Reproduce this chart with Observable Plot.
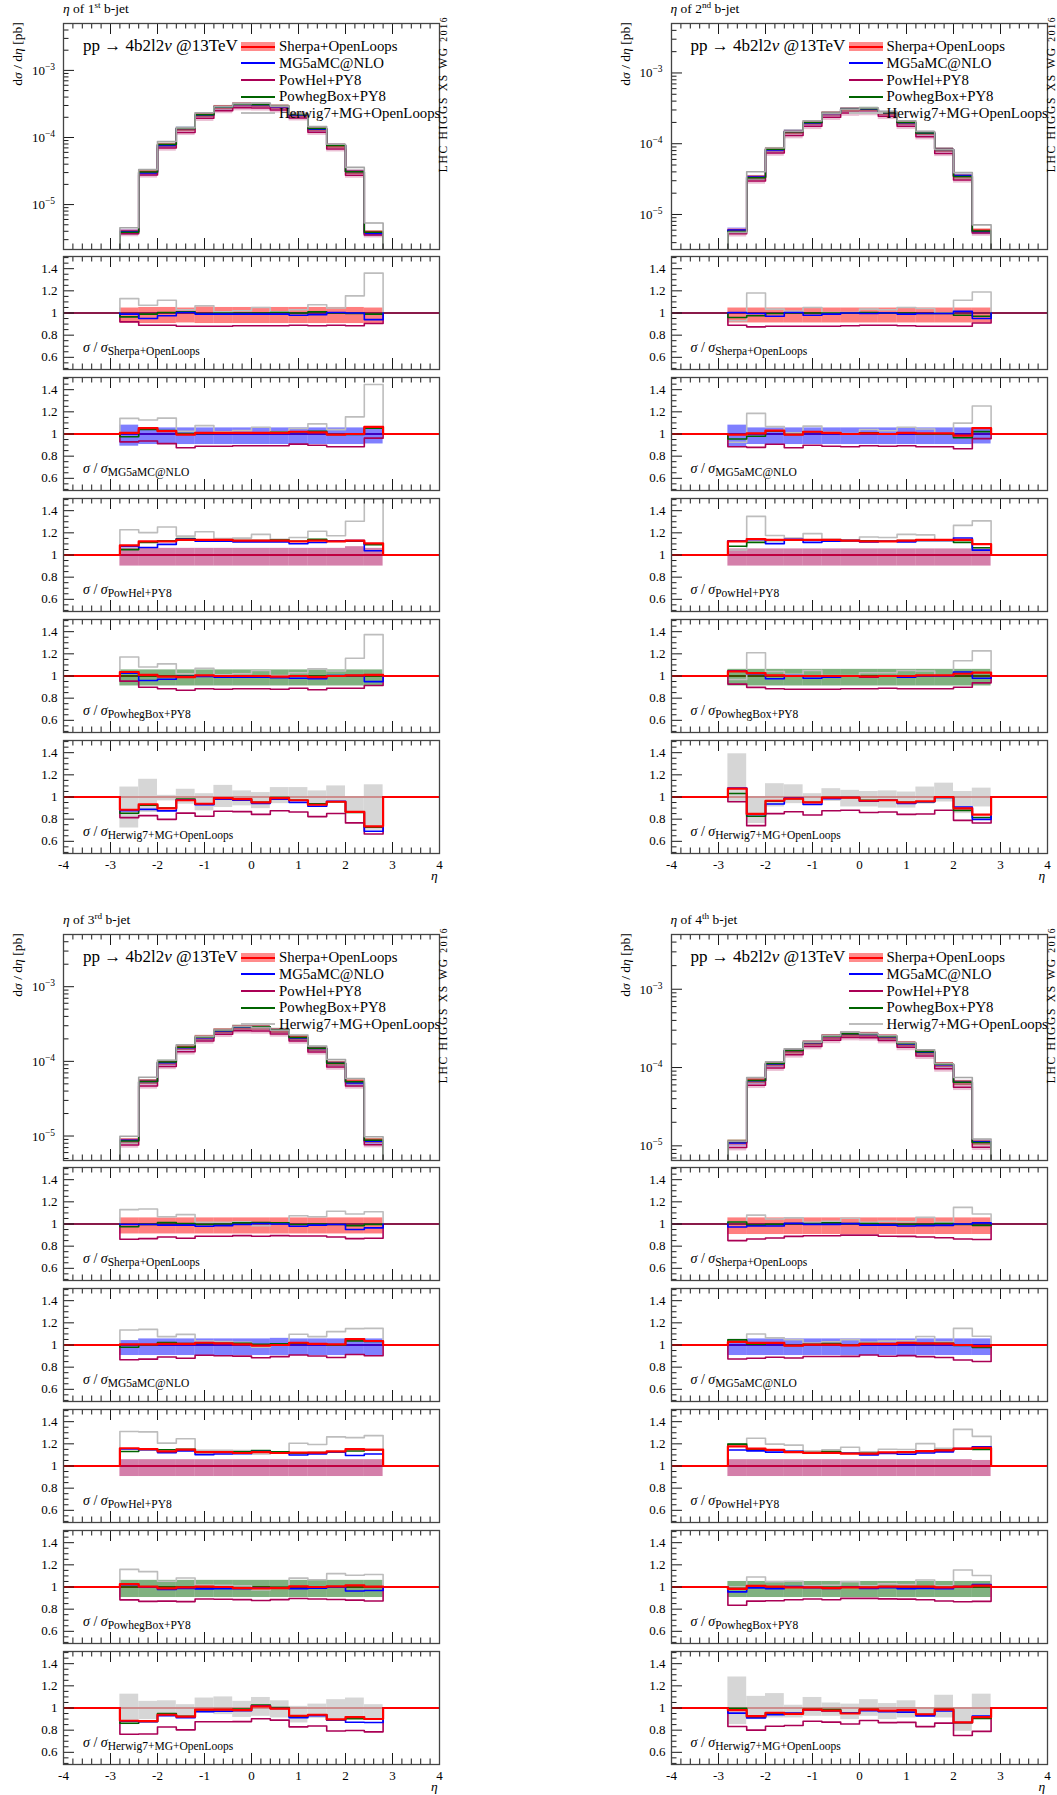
<!DOCTYPE html>
<html><head><meta charset="utf-8">
<script src="https://cdn.jsdelivr.net/npm/d3@7"></script>
<script src="https://cdn.jsdelivr.net/npm/@observablehq/plot@0.6"></script>
<style>
body{margin:0;background:#fff}
#fig{position:relative;width:1057px;height:1795px;background:#fff;font-family:"Liberation Serif",serif;color:#000;overflow:hidden}
#fig svg{position:absolute;background:transparent}
.t{position:absolute;white-space:nowrap;line-height:1}
.t sub{font-size:11.5px;vertical-align:-0.3em;line-height:0}
.t sup{font-size:68%;vertical-align:0.5em;line-height:0}
</style></head><body><div id="fig"></div><script>
// ---------- data ----------
const edges = [-2.8,-2.4,-2.0,-1.6,-1.2,-0.8,-0.4,0,0.4,0.8,1.2,1.6,2.0,2.4,2.8];
const ordinals = ["st","nd","rd","th"];
const genNames = ["Sherpa+OpenLoops","MG5aMC@NLO","PowHel+PY8","PowhegBox+PY8","Herwig7+MG+OpenLoops"];
const lineColors = ["#ff0000","#0000ff","#aa0055","#006400","#bdbdbd"];
const mainLineColors = ["#ff0000","#0000ff","#aa0055","#006400","#a6a6a6"];
const bandColors = ["#ff0000","#0000ff","#aa0055","#006400","#d6d6d6"];
const yMin = [2.14e-6, 3.2e-6, 4.7e-6, 6.5e-6];
const yMax = 5e-3;
const xMajorTicks = [-4,-3,-2,-1,0,1,2,3,4];
const xLabels = [-4,-3,-2,-1,0,1,2,3,4];
const ratioMajorTicks = [0.6,0.8,1.0,1.2,1.4];
const ratioLabels = [0.6,0.8,1,1.2,1.4];

// Sherpa+OpenLoops dσ/dη [pb], one row per b-jet
const sherpaXS = [
  [4.0e-6,3.1e-5,7.8e-5,1.35e-4,2.19e-4,2.85e-4,3.13e-4,3.1e-4,2.9e-4,2.2e-4,1.35e-4,7.6e-5,3.1e-5,3.9e-6],
  [6.0e-6,3.4e-5,8.4e-5,1.48e-4,2.0e-4,2.69e-4,3.06e-4,3.1e-4,2.74e-4,2.0e-4,1.43e-4,8.3e-5,3.5e-5,6.0e-6],
  [8.8e-6,5.4e-5,9.7e-5,1.54e-4,2.11e-4,2.59e-4,2.87e-4,2.87e-4,2.6e-4,2.1e-4,1.5e-4,9.5e-5,5.4e-5,8.8e-6],
  [1.12e-5,6.9e-5,1.13e-4,1.64e-4,2.08e-4,2.49e-4,2.69e-4,2.67e-4,2.49e-4,2.04e-4,1.59e-4,1.10e-4,6.5e-5,1.12e-5]
];
// ratios to Sherpa+OpenLoops
const mgRatio = [
  [0.99,0.95,0.975,1.005,0.99,0.99,0.99,0.99,0.99,0.98,0.985,1.005,1.0,0.94],
  [1.005,0.995,0.97,1.005,0.98,0.99,1.0,0.995,1.0,0.99,0.995,0.995,1.015,0.95],
  [0.995,0.995,0.99,0.99,0.98,0.985,0.995,1.005,1.0,0.98,0.99,0.995,0.95,0.965],
  [0.973,0.982,0.982,1.006,0.997,0.997,1.003,0.99,0.99,0.982,0.985,0.988,1.0,1.01]
];
const powhelRatio = [
  [0.92,0.89,0.89,0.88,0.88,0.88,0.885,0.885,0.885,0.89,0.885,0.89,0.885,0.905],
  [0.89,0.875,0.88,0.88,0.88,0.88,0.885,0.89,0.89,0.885,0.88,0.88,0.88,0.91],
  [0.862,0.868,0.883,0.871,0.889,0.889,0.895,0.889,0.895,0.892,0.892,0.883,0.868,0.871],
  [0.85,0.864,0.873,0.888,0.894,0.894,0.9,0.9,0.89,0.888,0.882,0.876,0.864,0.86]
];
const powhegRatio = [
  [0.965,0.99,1.005,1.01,0.995,1.0,1.0,1.0,1.005,1.0,1.01,1.0,0.995,0.99],
  [0.96,0.975,0.995,1.0,1.0,1.0,1.0,1.005,1.0,1.0,0.995,0.995,0.98,0.97],
  [0.975,0.997,1.012,1.003,0.997,1.0,1.01,1.012,1.01,0.995,1.0,0.995,0.985,0.997],
  [1.018,0.99,0.997,1.003,1.003,1.01,1.003,1.003,0.997,0.997,0.997,1.003,0.997,0.988]
];
const herwigRatio = [
  [1.13,1.07,1.115,1.03,1.065,1.01,1.02,1.05,1.01,1.03,1.075,1.045,1.155,1.36],
  [0.93,1.18,1.035,1.015,1.05,1.005,1.005,1.035,1.03,1.05,1.04,1.0,1.115,1.19],
  [1.13,1.135,1.065,1.085,1.015,1.015,1.02,0.985,1.005,1.075,1.065,1.115,1.09,1.11],
  [1.02,1.08,1.045,1.055,1.015,1.025,1.052,1.015,1.025,1.02,1.06,1.015,1.15,1.09]
];
// relative uncertainty bands (lower / upper)
const sherpaLo = [
  [0.91,0.905,0.905,0.91,0.905,0.905,0.905,0.905,0.905,0.905,0.905,0.905,0.905,0.905],
  [0.91,0.91,0.91,0.91,0.91,0.91,0.91,0.91,0.91,0.91,0.91,0.91,0.91,0.91],
  [0.91,0.91,0.91,0.91,0.91,0.91,0.91,0.91,0.91,0.91,0.91,0.91,0.91,0.91],
  [0.905,0.905,0.905,0.905,0.905,0.905,0.905,0.905,0.905,0.905,0.905,0.905,0.905,0.905]
];
const sherpaHi = [
  [1.045,1.05,1.05,1.045,1.055,1.05,1.05,1.05,1.05,1.05,1.05,1.05,1.05,1.045],
  [1.045,1.045,1.045,1.045,1.045,1.045,1.045,1.045,1.045,1.045,1.045,1.045,1.045,1.045],
  [1.055,1.055,1.055,1.055,1.055,1.055,1.055,1.055,1.055,1.055,1.055,1.055,1.055,1.055],
  [1.055,1.055,1.055,1.055,1.055,1.055,1.055,1.055,1.055,1.055,1.055,1.055,1.055,1.055]
];
const mgLo = [
  [0.89,0.905,0.905,0.905,0.905,0.905,0.905,0.905,0.905,0.905,0.905,0.905,0.905,0.91],
  [0.88,0.905,0.905,0.905,0.905,0.905,0.905,0.905,0.905,0.905,0.905,0.905,0.905,0.91],
  [0.905,0.905,0.905,0.905,0.905,0.905,0.905,0.905,0.905,0.905,0.905,0.905,0.905,0.905],
  [0.905,0.905,0.905,0.905,0.905,0.905,0.905,0.905,0.905,0.905,0.905,0.905,0.905,0.905]
];
const mgHi = [
  [1.08,1.055,1.055,1.055,1.055,1.055,1.055,1.055,1.055,1.055,1.055,1.055,1.055,1.06],
  [1.08,1.055,1.055,1.055,1.055,1.055,1.055,1.055,1.055,1.055,1.055,1.055,1.055,1.055],
  [1.04,1.055,1.055,1.055,1.055,1.055,1.055,1.055,1.06,1.055,1.055,1.055,1.055,1.055],
  [1.05,1.055,1.055,1.055,1.055,1.055,1.055,1.055,1.055,1.055,1.055,1.055,1.055,1.055]
];
const powhelLo = [
  [0.9,0.9,0.9,0.9,0.9,0.9,0.9,0.9,0.9,0.9,0.9,0.9,0.9,0.9],
  [0.9,0.9,0.9,0.9,0.9,0.9,0.9,0.9,0.9,0.9,0.9,0.9,0.9,0.9],
  [0.905,0.905,0.905,0.905,0.905,0.905,0.905,0.905,0.905,0.905,0.905,0.905,0.905,0.905],
  [0.905,0.905,0.905,0.905,0.905,0.905,0.905,0.905,0.905,0.905,0.905,0.905,0.905,0.905]
];
const powhelHi = [
  [1.06,1.06,1.06,1.06,1.06,1.06,1.06,1.06,1.06,1.06,1.06,1.06,1.075,1.06],
  [1.055,1.055,1.055,1.055,1.055,1.055,1.055,1.055,1.055,1.055,1.055,1.055,1.055,1.055],
  [1.057,1.057,1.057,1.057,1.057,1.057,1.057,1.057,1.057,1.057,1.057,1.057,1.057,1.057],
  [1.057,1.057,1.057,1.057,1.057,1.057,1.057,1.057,1.057,1.057,1.057,1.057,1.057,1.05]
];
const powhegLo = [
  [0.91,0.91,0.91,0.91,0.91,0.91,0.91,0.91,0.91,0.91,0.91,0.91,0.91,0.91],
  [0.91,0.91,0.91,0.91,0.91,0.91,0.91,0.91,0.91,0.91,0.91,0.91,0.91,0.91],
  [0.905,0.905,0.905,0.905,0.905,0.905,0.905,0.905,0.905,0.905,0.905,0.905,0.905,0.905],
  [0.905,0.905,0.905,0.905,0.905,0.905,0.905,0.905,0.905,0.905,0.905,0.905,0.905,0.905]
];
const powhegHi = [
  [1.055,1.055,1.055,1.055,1.055,1.055,1.055,1.055,1.055,1.055,1.055,1.055,1.055,1.055],
  [1.06,1.06,1.06,1.06,1.06,1.06,1.06,1.06,1.06,1.06,1.06,1.06,1.06,1.06],
  [1.06,1.06,1.06,1.06,1.06,1.06,1.06,1.06,1.06,1.06,1.06,1.06,1.06,1.06],
  [1.05,1.05,1.05,1.05,1.05,1.05,1.05,1.05,1.05,1.05,1.05,1.05,1.05,1.05]
];
const herwigLo = [
  [0.72,0.86,0.965,0.935,0.875,0.905,0.92,0.895,0.94,0.965,0.905,0.95,0.86,0.70],
  [0.95,0.76,0.91,0.94,0.955,0.96,0.91,0.91,0.90,0.90,0.935,0.955,0.85,0.91],
  [0.85,0.895,0.925,0.91,0.955,0.94,0.915,0.925,0.91,0.865,0.905,0.885,0.91,0.895],
  [0.85,0.895,0.91,0.91,0.925,0.925,0.895,0.925,0.895,0.91,0.92,0.91,0.79,0.895]
];
const herwigHi = [
  [1.09,1.16,1.015,1.07,1.03,1.105,1.055,1.04,1.085,1.085,1.055,1.10,1.0,1.11],
  [1.39,1.0,1.12,1.11,1.03,1.075,1.06,1.05,1.055,1.045,1.09,1.125,1.05,1.08],
  [1.125,1.06,1.065,1.03,1.09,1.10,1.06,1.095,1.065,1.015,1.035,1.075,1.09,1.03],
  [1.28,1.105,1.13,1.025,1.095,1.045,1.035,1.075,1.04,1.065,1.0,1.115,1.0,1.125]
];

// ---------- layout ----------
const fig = document.getElementById("fig");
const colX = [63, 670.5];
const rowY = [0, 911];
const FW = 376, MH = 226, RH = 113, R0 = 256, RSTEP = 121, ML = 50, MAIN_TOP = 23;
const FONT = "Liberation Serif";

const ratioTo = [null, mgRatio, powhelRatio, powhegRatio, herwigRatio];
const loSets = [sherpaLo, mgLo, powhelLo, powhegLo, herwigLo];
const hiSets = [sherpaHi, mgHi, powhelHi, powhegHi, herwigHi];

function genValues(p) {
  return [0,1,2,3,4].map(g => sherpaXS[p].map((s, i) => g === 0 ? s : s * ratioTo[g][p][i]));
}
function hist(vals, base) {
  const pts = [{x: edges[0], y: base}];
  vals.forEach((v, i) => { pts.push({x: edges[i], y: v}, {x: edges[i + 1], y: v}); });
  pts.push({x: edges[edges.length - 1], y: base});
  return pts;
}
function bandRects(center, lo, hi) {
  return center.map((c, i) => ({x1: edges[i], x2: edges[i + 1], y1: c * lo[i], y2: c * hi[i]}));
}
const xMinorTicks = d3.range(-40, 41, 2).filter(v => v % 10 !== 0).map(v => v / 10);
const ratioMinorTicks = d3.range(50, 151, 5).filter(v => v % 20 !== 0).map(v => v / 100);

function frameTicks(H, yMajor, yMinor) {
  const st = {stroke: "#1a1a1a", strokeWidth: 1, clip: true};
  return [
    Plot.tickX(xMajorTicks, {x: d => d, insetTop: H - 11, ...st}),
    Plot.tickX(xMajorTicks, {x: d => d, insetBottom: H - 11, ...st}),
    Plot.tickX(xMinorTicks, {x: d => d, insetTop: H - 5.5, ...st}),
    Plot.tickX(xMinorTicks, {x: d => d, insetBottom: H - 5.5, ...st}),
    Plot.tickY(yMajor, {y: d => d, insetRight: FW - 11, ...st}),
    Plot.tickY(yMinor, {y: d => d, insetRight: FW - 5.5, ...st})
  ];
}
function place(svg, left, top) {
  svg.style.left = left + "px";
  svg.style.top = top + "px";
  fig.appendChild(svg);
  return svg;
}
function text(html, left, top, css) {
  const d = document.createElement("div");
  d.className = "t";
  d.innerHTML = html;
  d.style.left = left + "px";
  d.style.top = top + "px";
  if (css) Object.assign(d.style, css);
  fig.appendChild(d);
  return d;
}
const plotStyle = {fontFamily: FONT, fontSize: "13px", color: "#000", background: "transparent", overflow: "visible"};

function decadesFor(p) {
  return [1e-7,1e-6,1e-5,1e-4,1e-3,1e-2].filter(d => d >= yMin[p] && d <= yMax);
}
function mainPlot(p, vals) {
  const decades = decadesFor(p);
  const minors = [];
  [1e-7,1e-6,1e-5,1e-4,1e-3].forEach(d => [2,3,4,5,6,7,8,9].forEach(k => { const v = d * k; if (v > yMin[p] && v < yMax) minors.push(v); }));
  const marks = [];
  [2,1,3,0].forEach(g => marks.push(Plot.rect(bandRects(vals[g], loSets[g][p], hiSets[g][p]),
    {x1: "x1", x2: "x2", y1: "y1", y2: "y2", fill: bandColors[g], fillOpacity: g === 0 ? 0.4 : 0.25, clip: true})));
  [0,1,2,3,4].forEach(g => marks.push(Plot.line(hist(vals[g], yMin[p]),
    {x: "x", y: "y", stroke: mainLineColors[g], strokeWidth: g === 4 ? 1.6 : 1.5, clip: true})));
  marks.push(...frameTicks(MH, decades, minors));
  marks.push(Plot.frame({stroke: "#444", strokeWidth: 1.3}));
  return Plot.plot({
    width: ML + FW + 1, height: MH + 2, marginLeft: ML, marginRight: 1, marginTop: 1, marginBottom: 1,
    x: {domain: [-4, 4], axis: null}, y: {type: "log", domain: [yMin[p], yMax], axis: null},
    style: plotStyle, marks
  });
}

function ratioPlot(p, vals, k, last) {
  const ref = vals[k];
  const ones = ref.map((v, i) => v / ref[i]);
  const marks = [];
  marks.push(Plot.rect(bandRects(ones, loSets[k][p], hiSets[k][p]),
    {x1: "x1", x2: "x2", y1: "y1", y2: "y2", fill: bandColors[k], fillOpacity: k === 4 ? 1 : 0.5, clip: true}));
  marks.push(Plot.ruleY([1], {stroke: k === 0 ? "#8a1a4a" : "#ff0000", strokeWidth: 2}));
  if (k !== 0) marks.push(Plot.line(hist(ones, 1), {x: "x", y: "y", stroke: lineColors[k], strokeWidth: 1.6}));
  [4,2,3,1,0].filter(g => g !== k).forEach(g => {
    const r = vals[g].map((v, i) => v / ref[i]);
    marks.push(Plot.line(hist(r, 1), {x: "x", y: "y", stroke: lineColors[g], strokeWidth: g === 0 ? 2.2 : 1.6, clip: true}));
  });
  marks.push(...frameTicks(RH, ratioMajorTicks, ratioMinorTicks));
  marks.push(Plot.frame({stroke: "#444", strokeWidth: 1.3}));
  marks.push(Plot.axisY(ratioLabels, {tickSize: 0, tickPadding: 6, tickFormat: d => d === 1 ? "1" : d.toFixed(1), label: null}));
  if (last) marks.push(Plot.axisX(xLabels, {tickSize: 0, tickPadding: 6, tickFormat: d => d < 0 ? "-" + (-d) : String(d), label: null}));
  return Plot.plot({
    width: ML + FW + 1, height: RH + 2 + (last ? 22 : 0), marginLeft: ML, marginRight: 1, marginTop: 1, marginBottom: last ? 23 : 1,
    x: {domain: [-4, 4], axis: null}, y: {domain: [0.49, 1.51], axis: null},
    style: plotStyle, marks
  });
}

for (let p = 0; p < 4; p++) {
  const X = colX[p % 2], Y = rowY[Math.floor(p / 2)];
  const vals = genValues(p);
  const top = Y + MAIN_TOP - 1;
  const mp = place(mainPlot(p, vals), X - ML, top);
  const ys = mp.scale("y");
  decadesFor(p).forEach(d => {
    const e = Math.round(Math.log10(d));
    text(`10<sup style="font-size:9.5px;vertical-align:0.55em">\u2212${-e}</sup>`, X - 8, top + ys.apply(d) - 6, {fontSize: "13px", transform: "translateX(-100%)"});
  });
  for (let k = 0; k < 5; k++) {
    place(ratioPlot(p, vals, k, k === 4), X - ML, Y + R0 + k * RSTEP - 1);
  }
}

// ---------- text ----------
const legendRows = [46.7, 63.3, 80, 96.7, 113.3];
for (let p = 0; p < 4; p++) {
  const X = colX[p % 2], Y = rowY[Math.floor(p / 2)];
  text(`<i>η</i> of ${p + 1}<sup>${ordinals[p]}</sup> b-jet`, X, Y + 1.5, {fontSize: "13.5px"});
  text(`d<i>σ</i> / d<i>η</i> [pb]`, X - 45, Y + 54, {fontSize: "13.5px", transform: "translate(-50%,-50%) rotate(-90deg)"});
  text(`pp → 4b2l2<i>ν</i> @13TeV`, X + 20, Y + 36.5, {fontSize: "17px"});
  text(`LHC HIGGS XS WG <span style="font-size:9.5px">2016</span>`, X + FW + 5, Y + 94, {fontSize: "11.5px", letterSpacing: "1.7px", transform: "translate(-50%,-50%) rotate(-90deg)"});
  legendRows.forEach((cy, g) => {
    const sw = document.createElement("div");
    sw.style.position = "absolute";
    sw.style.left = (X + 178) + "px";
    sw.style.width = "34px";
    if (g === 0) {
      sw.style.top = (Y + cy - 4.5) + "px"; sw.style.height = "9px";
      sw.style.background = "rgba(255,0,0,0.45)";
      sw.innerHTML = '<div style="position:absolute;left:0;right:0;top:3.5px;height:2px;background:#ff0000"></div>';
    } else {
      sw.style.top = (Y + cy - 1) + "px"; sw.style.height = "2px";
      sw.style.background = g === 4 ? "#bdbdbd" : lineColors[g];
    }
    fig.appendChild(sw);
    text(genNames[g], X + 216, Y + cy - 7.5, {fontSize: "14.8px"});
  });
  for (let k = 0; k < 5; k++) {
    text(`<i>σ</i> / <i>σ</i><sub>${genNames[k]}</sub>`, X + 20, Y + R0 + k * RSTEP + 85, {fontSize: "14px"});
  }
  text(`<i>η</i>`, X + 368, Y + 869, {fontSize: "13.5px"});
}
</script></body></html>
